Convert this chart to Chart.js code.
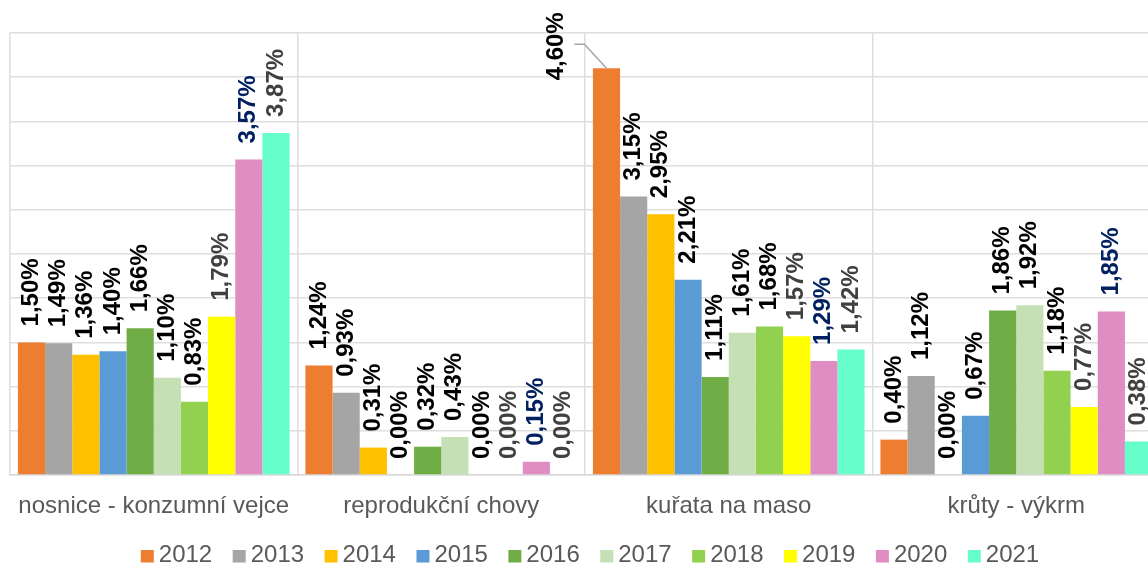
<!DOCTYPE html>
<html>
<head>
<meta charset="utf-8">
<script src="https://cdn.jsdelivr.net/npm/chart.js@4/dist/chart.umd.min.js"></script>
<style>
  html, body { margin: 0; padding: 0; background: #fff; overflow: hidden; width: 1148px; height: 565px; }
  #wrap { position: absolute; left: 0; top: 0; width: 1180px; height: 565px; }
</style>
</head>
<body>
<div id="wrap"><canvas id="c" width="1180" height="565"></canvas></div>
<script>
// ---- data ----
const categories = ['nosnice - konzumní vejce', 'reprodukční chovy', 'kuřata na maso', 'krůty - výkrm'];
const years = ['2012', '2013', '2014', '2015', '2016', '2017', '2018', '2019', '2020', '2021'];
const s2012 = [1.50, 1.24, 4.60, 0.40];
const s2013 = [1.49, 0.93, 3.15, 1.12];
const s2014 = [1.36, 0.31, 2.95, 0.00];
const s2015 = [1.40, 0.00, 2.21, 0.67];
const s2016 = [1.66, 0.32, 1.11, 1.86];
const s2017 = [1.10, 0.43, 1.61, 1.92];
const s2018 = [0.83, 0.00, 1.68, 1.18];
const s2019 = [1.79, 0.00, 1.57, 0.77];
const s2020 = [3.57, 0.15, 1.29, 1.85];
const s2021 = [3.87, 0.00, 1.42, 0.38];
const seriesValues = [s2012, s2013, s2014, s2015, s2016, s2017, s2018, s2019, s2020, s2021];

// ---- styles ----
const barColors = ['#ED7D31', '#A5A5A5', '#FFC000', '#5B9BD5', '#70AD47', '#C5E0B4', '#92D050', '#FFFF00', '#E08DC4', '#66FFCC'];
const labelColors = ['#000000', '#000000', '#000000', '#000000', '#000000', '#000000', '#000000', '#404040', '#002060', '#404040'];
const FONT = "'Liberation Sans', Arial, sans-serif";

const fmt = v => v.toFixed(2).replace('.', ',') + '%';

const barLabelPlugin = {
  id: 'barLabels',
  afterDatasetsDraw(chart, args, opts) {
    const ctx = chart.ctx;
    ctx.save();
    ctx.font = 'bold 24px ' + FONT;
    chart.data.datasets.forEach((ds, di) => {
      const meta = chart.getDatasetMeta(di);
      meta.data.forEach((bar, i) => {
        const text = fmt(ds.data[i]);
        let x = bar.x, y = bar.y - opts.offset;
        const co = opts.callouts.find(c => c.dataset === di && c.index === i);
        if (co) {
          x = bar.x + co.dx;
          y = bar.y + co.dy;
          ctx.strokeStyle = '#A6A6A6';
          ctx.lineWidth = 1.5;
          ctx.beginPath();
          ctx.moveTo(x + co.lineStartDx, bar.y + co.lineDy);
          ctx.lineTo(bar.x + co.elbowDx, bar.y + co.lineDy);
          ctx.lineTo(bar.x, bar.y);
          ctx.stroke();
        }
        ctx.save();
        ctx.translate(x, y);
        ctx.rotate(-Math.PI / 2);
        ctx.fillStyle = labelColors[di];
        ctx.textAlign = 'left';
        ctx.textBaseline = 'middle';
        ctx.fillText(text, 0, 0);
        ctx.restore();
      });
    });
    ctx.restore();
  }
};

const legendPlugin = {
  id: 'customLegend',
  afterDraw(chart, args, opts) {
    const ctx = chart.ctx;
    ctx.save();
    ctx.font = '24px ' + FONT;
    const items = chart.data.datasets.map(ds => ({ label: ds.label, color: ds.backgroundColor, w: ctx.measureText(ds.label).width }));
    const box = 13, gap = 5, spacing = opts.spacing;
    let total = 0;
    items.forEach((it, k) => { total += box + gap + it.w + (k < items.length - 1 ? spacing : 0); });
    let x = opts.centerX - total / 2;
    items.forEach(it => {
      ctx.fillStyle = it.color;
      ctx.fillRect(x, opts.baseline - 12, box, box - 0.5);
      ctx.fillStyle = '#595959';
      ctx.textAlign = 'left';
      ctx.textBaseline = 'alphabetic';
      ctx.fillText(it.label, x + box + gap, opts.baseline);
      x += box + gap + it.w + spacing;
    });
    ctx.restore();
  }
};

const datasets = years.map((y, k) => ({
  label: y,
  data: seriesValues[k],
  backgroundColor: barColors[k],
  borderWidth: 0,
  barPercentage: 1.0,
  categoryPercentage: 0.945
}));

new Chart(document.getElementById('c'), {
  type: 'bar',
  data: { labels: categories, datasets },
  plugins: [barLabelPlugin, legendPlugin],
  options: {
    responsive: false,
    animation: false,
    devicePixelRatio: 1,
    layout: { padding: { left: 10, right: 20, top: 33, bottom: 0 } },
    plugins: {
      legend: { display: false },
      tooltip: { enabled: false },
      barLabels: {
        offset: 16,
        callouts: [{ dataset: 0, index: 2, dx: -50, dy: 12, lineStartDx: 18, elbowDx: -22, lineDy: -24 }]
      },
      customLegend: { centerX: 590, baseline: 562, spacing: 20.5 }
    },
    scales: {
      x: {
        grid: { color: '#DEDEDE', lineWidth: 1.5, drawTicks: false, offset: true },
        border: { color: '#D9D9D9', width: 1.5 },
        ticks: { color: '#595959', font: { family: FONT, size: 24 }, padding: 17, maxRotation: 0, autoSkip: false },
        afterFit: s => { s.height = 90; }
      },
      y: {
        min: 0, max: 5,
        ticks: { display: false, stepSize: 0.5 },
        grid: { color: '#DEDEDE', lineWidth: 1.5, drawTicks: false },
        border: { display: false },
        afterFit: s => { s.width = 0; }
      }
    }
  }
});
</script>
</body>
</html>
